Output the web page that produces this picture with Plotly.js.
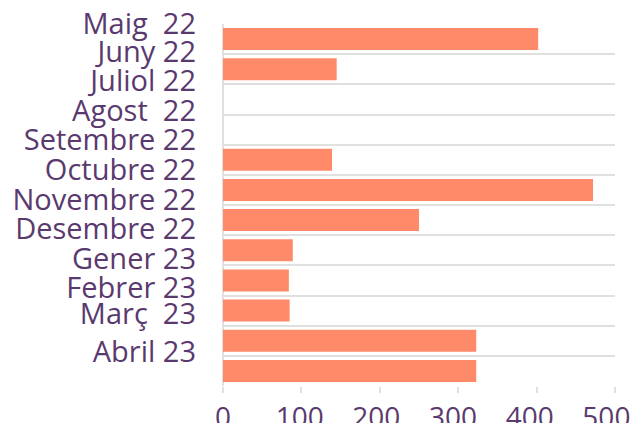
<!DOCTYPE html>
<html>
<head>
<meta charset="utf-8">
<script src="https://cdn.plot.ly/plotly-3.0.1.min.js"></script>
<style>html,body{margin:0;padding:0;background:#fff;}#chart{width:639px;height:423px;}</style>
</head>
<body>
<div id="chart"></div>
<script>
// Category labels as shown on the axis
const monthLabels = ['Maig  22', 'Juny 22', 'Juliol 22', 'Agost  22', 'Setembre 22', 'Octubre 22',
  'Novembre 22', 'Desembre 22', 'Gener 23', 'Febrer 23', 'Març  23', 'Abril 23'];
// Bar values (one per band, top to bottom)
const barValues = [402, 145, 0, 0, 139, 472, 250, 89, 84, 85, 323, 323];
// Tick labels on the value axis
const xTickVals = [0, 100, 200, 300, 400, 500];

const idx = barValues.map((v, i) => i);
// label positions (slightly offset from band boundaries, as in the reference)
const labelPos = [-0.5, 0.43, 1.39, 2.38, 3.35, 4.34, 5.33, 6.30, 7.29, 8.25, 9.10, 10.37];
const boundaries = barValues.map((v, i) => i - 0.5).concat([barValues.length - 0.5]);
// in the reference the value labels sit slightly left of their tick marks
const xLabelPos = xTickVals.map(v => v * 0.978);

const textColor = '#5a3a6e';
const gridColor = '#e0e0e0';
const fontFam = '"Open Sans", "Noto Sans", sans-serif';

const trace = {
  type: 'bar',
  orientation: 'h',
  x: barValues,
  y: idx,
  marker: {color: '#ff8a69'},
  hoverinfo: 'x'
};
const gridTrace = {
  type: 'scatter', mode: 'none', x: [0], y: [0], xaxis: 'x2', yaxis: 'y2', showlegend: false, hoverinfo: 'skip'
};

const layout = {
  width: 639, height: 423,
  margin: {l: 223, r: 24, t: 24, b: 37},
  paper_bgcolor: '#fff', plot_bgcolor: '#fff',
  showlegend: false,
  bargap: 0.27,
  font: {family: fontFam, color: textColor, size: 29},
  xaxis: {
    range: [0, 500], tickvals: xTickVals, showticklabels: false,
    showgrid: false, zeroline: true, zerolinecolor: gridColor, zerolinewidth: 2,
    ticks: 'outside', ticklen: 6, tickwidth: 2, tickcolor: gridColor, fixedrange: true
  },
  xaxis2: {
    overlaying: 'x', side: 'bottom', anchor: 'y', range: [0, 500],
    tickvals: xLabelPos, ticktext: xTickVals.map(String),
    showgrid: false, zeroline: false,
    ticks: 'outside', ticklen: 6, tickwidth: 1, tickcolor: 'rgba(0,0,0,0)',
    ticklabeloverflow: 'allow',
    tickfont: {family: fontFam, size: 28, color: textColor}, fixedrange: true
  },
  yaxis: {
    range: [11.5, -0.5], tickvals: labelPos,
    ticktext: monthLabels.map(s => s.replace(/ /g, '\u00a0')),
    showgrid: false, zeroline: false, ticks: '', ticklabelstandoff: 26,
    tickfont: {family: fontFam, size: 29, color: textColor}, fixedrange: true
  },
  yaxis2: {
    overlaying: 'y', range: [11.5, -0.5], tickvals: boundaries,
    showgrid: true, gridcolor: gridColor, gridwidth: 2, showticklabels: false,
    ticks: '', zeroline: false, fixedrange: true
  }
};

Plotly.newPlot('chart', [gridTrace, trace], layout, {displayModeBar: false, staticPlot: true});
</script>
</body>
</html>
